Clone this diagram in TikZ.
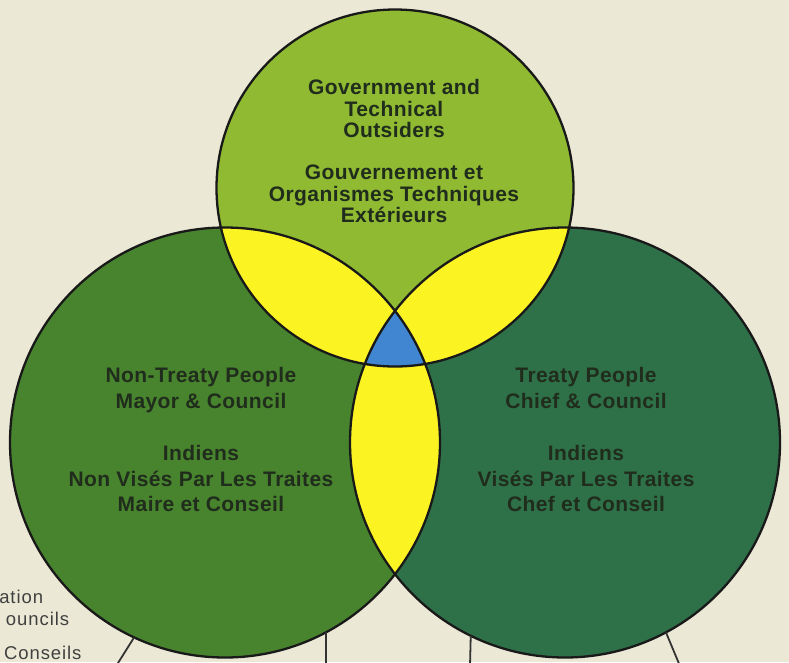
\documentclass[tikz,border=0pt]{standalone}
\usepackage{xcolor,tikz,fontspec}
\usetikzlibrary{positioning}
\setmainfont{Liberation Sans}
\newfontfamily\vennfont[LetterSpace=2]{Liberation Sans}
\newfontfamily\notefont[LetterSpace=5]{Liberation Sans}
\definecolor{paper}{RGB}{235,233,213}
\definecolor{govgreen}{RGB}{143,186,50}
\definecolor{bandgreen}{RGB}{72,132,46}
\definecolor{treatygreen}{RGB}{46,113,72}
\definecolor{overlap}{RGB}{252,243,35}
\definecolor{core}{RGB}{64,134,208}
\definecolor{ink}{RGB}{32,44,28}
\tikzset{
  set/.style={circle,inner sep=0pt,outer sep=0pt},
  rim/.style={draw=black!90,line width=2.3pt},
  link/.style={draw=black!80,line width=1.8pt},
  txt/.style={font=\vennfont\bfseries,text=ink,align=center,inner sep=0pt,anchor=north},
  side/.style={font=\notefont\fontsize{18.5}{22}\selectfont,text=black!75,inner sep=0pt,anchor=base east}
}

\begin{document}
\begin{tikzpicture}[x=1pt,y=-1pt]
  \useasboundingbox (0,0) rectangle (789,662);
  \clip (0,0) rectangle (789,662);
  \fill[paper] (0,0) rectangle (789,662);

  % the three sets
  \node[set,minimum size=357pt,fill=govgreen] (gov) at (395,188) {};
  \node[set,minimum size=430pt,fill=bandgreen] (nontreaty) at (225,442.5) {};
  \node[set,minimum size=430pt,fill=treatygreen] (treaty) at (565,442.5) {};

  % pairwise overlaps, then the common part
  \begin{scope}
    \clip (gov) circle (178.5pt);
    \fill[overlap] (nontreaty) circle (215pt) (treaty) circle (215pt);
  \end{scope}
  \begin{scope}
    \clip (nontreaty) circle (215pt);
    \fill[overlap] (treaty) circle (215pt);
  \end{scope}
  \begin{scope}
    \clip (gov) circle (178.5pt);
    \clip (nontreaty) circle (215pt);
    \fill[core] (treaty) circle (215pt);
  \end{scope}
  \draw[rim] (gov) circle (178.5pt) (nontreaty) circle (215pt) (treaty) circle (215pt);

  % links running off the bottom
  \coordinate (nt-l) at (101,690);
  \coordinate (nt-r) at (326,690);
  \coordinate (tr-l) at (469.4,690);
  \coordinate (tr-r) at (690,690);
  \draw[link] (nontreaty.-115) -- (nt-l);
  \draw[link] (nontreaty.-62) -- (nt-r);
  \draw[link] (treaty.-116.4) -- (tr-l);
  \draw[link] (treaty.-62.5) -- (tr-r);

  \node[txt,font=\vennfont\bfseries\fontsize{21}{21.7}\selectfont] (govtxt) at (394,79)
    {Government and\\Technical\\Outsiders\\[20pt]Gouvernement et\\Organismes Techniques\\Extérieurs};
  \node[txt,font=\vennfont\bfseries\fontsize{21}{25.6}\selectfont] (nttxt) at (201,367)
    {Non-Treaty People\\Mayor \& Council\\[27pt]Indiens\\Non Visés Par Les Traites\\Maire et Conseil};
  \node[txt,font=\vennfont\bfseries\fontsize{21}{25.6}\selectfont] (trtxt) at (586,367)
    {Treaty People\\Chief \& Council\\[27pt]Indiens\\Visés Par Les Traites\\Chef et Conseil};

  \node[side] (adm) at (43.3,603.3) {ation};
  \node[side] (cnc) at (69.3,625) {ouncils};
  \node[side] (cns) at (81.7,659) {Conseils};
\end{tikzpicture}
\end{document}
